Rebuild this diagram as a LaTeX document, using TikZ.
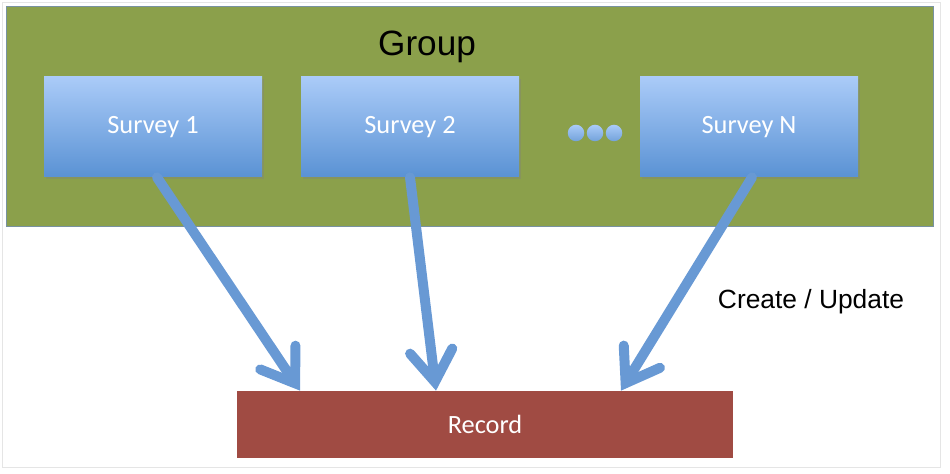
\documentclass[tikz,border=0pt]{standalone}
\usepackage{fontspec}
\setmainfont{Carlito}
\newfontfamily\arialfont{Liberation Sans}
\usetikzlibrary{shapes, arrows.meta, shadows}

\definecolor{groupgreen}{RGB}{139,160,75}
\definecolor{groupedge}{RGB}{120,146,160}
\definecolor{surveytop}{RGB}{170,203,248}
\definecolor{surveybot}{RGB}{90,146,212}
\definecolor{recordred}{RGB}{160,75,67}
\definecolor{flowblue}{RGB}{104,153,212}

\tikzset{
    surveybox/.style={rectangle, minimum width=4.36cm, minimum height=2cm,
        top color=surveytop, bottom color=surveybot, draw=none, text=white,
        font=\fontsize{15}{18}\selectfont,
        drop shadow={opacity=0.35, shadow xshift=0.04cm, shadow yshift=-0.05cm}},
    flow/.style={draw=flowblue, line width=0.2cm, line cap=round,
        -{Straight Barb[length=0.62cm, width=0.85cm, line cap=round]}},
}

\begin{document}
\begin{tikzpicture}

    \useasboundingbox (0,0) rectangle (19,9.48);
    \draw[black!10] (0.04,0.14) rectangle (18.8,9.44);

    \draw(9.39,7.16) node[rectangle, minimum width=18.54cm, minimum height=4.4cm,
        fill=groupgreen, draw=groupedge, line width=0.4pt] (group) {};
    \draw(8.54,8.54) node[font=\arialfont\fontsize{20}{24}\selectfont] (grouplabel) {Group};

    \draw(3.06,6.94) node[surveybox] (s1) {Survey 1};
    \draw(8.2,6.94) node[surveybox] (s2) {Survey 2};
    \draw(14.98,6.94) node[surveybox] (sN) {Survey N};

    \foreach \i/\x in {1/11.52, 2/11.9, 3/12.28}
        \draw(\x,6.82) node[circle, inner sep=0pt, minimum size=0.33cm,
            top color=surveytop, bottom color=surveybot!85!white] (dot\i) {};

    \draw(9.7,0.99) node[rectangle, minimum width=9.92cm, minimum height=1.34cm,
        fill=recordred, text=white, font=\fontsize{15}{18}\selectfont] (rec) {Record};

    \draw(16.22,3.44) node[font=\arialfont\fontsize{15}{18}\selectfont] (cu) {Create / Update};

    \draw[flow] ([xshift=0.08cm]s1.south) to ([xshift=-3.7cm]rec.north);
    \draw[flow] (s2.south) to ([xshift=-0.98cm]rec.north);
    \draw[flow] ([xshift=0.06cm]sN.south) to ([xshift=2.72cm]rec.north);

\end{tikzpicture}
\end{document}
